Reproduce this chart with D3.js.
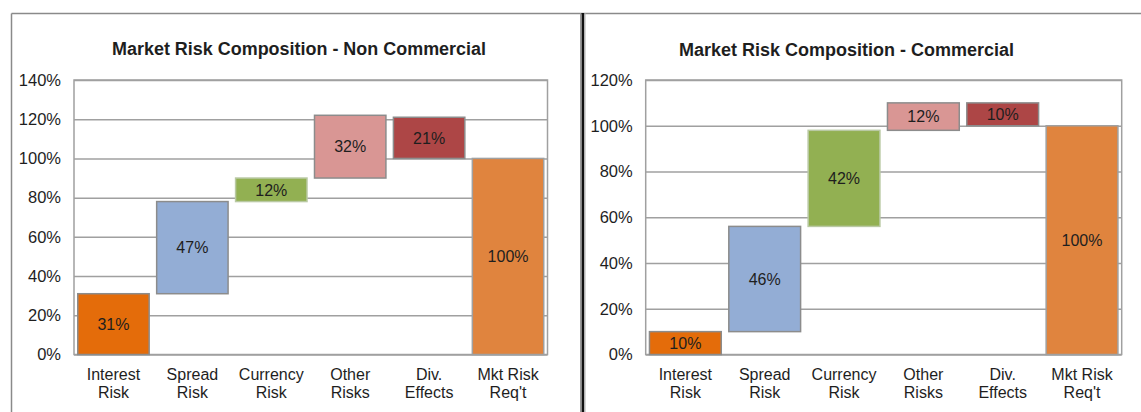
<!DOCTYPE html>
<html>
<head>
<meta charset="utf-8">
<script src="https://cdn.jsdelivr.net/npm/d3@7"></script>
<style>
  html, body { margin: 0; padding: 0; background: #fff; }
  svg { display: block; }
  text { font-family: "Liberation Sans", Arial, sans-serif; fill: #1e1e1e; }
</style>
</head>
<body>
<svg id="chart" width="1141" height="412"></svg>
<script>
// Waterfall categories (two-line labels)
const categories = [
  ["Interest", "Risk"],
  ["Spread", "Risk"],
  ["Currency", "Risk"],
  ["Other", "Risks"],
  ["Div.", "Effects"],
  ["Mkt Risk", "Req't"]
];

// Non Commercial: floating bar start and size (%)
const nonCommercialBase   = [0, 31, 78, 90, 100, 0];
const nonCommercialValues = [31, 47, 12, 32, 21, 100];
const nonCommercialTicks  = [0, 20, 40, 60, 80, 100, 120, 140];

// Commercial: floating bar start and size (%)
const commercialBase   = [0, 10, 56, 98, 100, 0];
const commercialValues = [10, 46, 42, 12, 10, 100];
const commercialTicks  = [0, 20, 40, 60, 80, 100, 120];

const barColors = ["#E46C0A", "#93ADD5", "#92B052", "#D99694", "#AD4646", "#E0843E"];
const barStrokes = ["#8c8c8c", "#8c8c8c", "#b9c9a3", "#8c8c8c", "#8c8c8c", "#a0a0a0"];

const svg = d3.select("#chart");

// Panel frames
svg.append("line").attr("x1", 11.5).attr("x2", 1141).attr("y1", 13.5).attr("y2", 13.5)
  .attr("stroke", "#8a8a8a").attr("stroke-width", 1.5);
svg.append("line").attr("x1", 11.5).attr("x2", 11.5).attr("y1", 13.5).attr("y2", 412)
  .attr("stroke", "#8a8a8a").attr("stroke-width", 1.5);
svg.append("line").attr("x1", 580.5).attr("x2", 580.5).attr("y1", 13).attr("y2", 412)
  .attr("stroke", "#9a9a9a").attr("stroke-width", 1);
svg.append("rect").attr("x", 581.5).attr("y", 13).attr("width", 2.8).attr("height", 399)
  .attr("fill", "#111");
svg.append("line").attr("x1", 585).attr("x2", 585).attr("y1", 13).attr("y2", 412)
  .attr("stroke", "#b0b0b0").attr("stroke-width", 1);

function drawPanel(cfg) {
  const g = svg.append("g");
  const x = d3.scaleBand()
    .domain(d3.range(categories.length))
    .range([cfg.left, cfg.right])
    .paddingInner(0.095)
    .paddingOuter(0.0475);
  const y = d3.scaleLinear()
    .domain([0, d3.max(cfg.ticks)])
    .range([cfg.bottom, cfg.top]);

  // Title
  g.append("text")
    .attr("x", cfg.titleX).attr("y", cfg.titleY)
    .attr("text-anchor", "middle")
    .attr("font-weight", "bold")
    .attr("font-size", 17.5)
    .attr("textLength", cfg.titleWidth)
    .attr("lengthAdjust", "spacingAndGlyphs")
    .text(cfg.title);

  // Gridlines
  const grid = g.append("g")
    .attr("transform", `translate(${cfg.left},0)`)
    .call(d3.axisLeft(y).tickValues(cfg.ticks).tickSize(-(cfg.right - cfg.left)).tickFormat(""));
  grid.select(".domain").remove();
  grid.selectAll("line").attr("stroke", "#a0a0a0").attr("stroke-width", 1.5);

  // Plot frame
  g.append("rect")
    .attr("x", cfg.left).attr("y", cfg.top)
    .attr("width", cfg.right - cfg.left).attr("height", cfg.bottom - cfg.top)
    .attr("fill", "none").attr("stroke", "#a0a0a0").attr("stroke-width", 1.5);

  // Y axis labels
  const yAxis = g.append("g")
    .attr("transform", `translate(${cfg.left},0)`)
    .call(d3.axisLeft(y).tickValues(cfg.ticks).tickSize(0).tickPadding(13).tickFormat(d => d + "%"));
  yAxis.select(".domain").remove();
  yAxis.selectAll("text")
    .attr("font-size", 16.5)
    .attr("fill", "#1e1e1e")
    .style("font-family", "'Liberation Sans', Arial, sans-serif");

  // Floating bars
  const data = cfg.values.map((v, i) => ({ i, base: cfg.base[i], value: v }));
  g.selectAll("rect.bar").data(data).join("rect")
    .attr("class", "bar")
    .attr("x", d => x(d.i))
    .attr("width", x.bandwidth())
    .attr("y", d => y(d.base + d.value))
    .attr("height", d => y(d.base) - y(d.base + d.value))
    .attr("fill", d => barColors[d.i])
    .attr("stroke", d => barStrokes[d.i])
    .attr("stroke-width", 1.5);

  // Value labels
  g.selectAll("text.val").data(data).join("text")
    .attr("class", "val")
    .attr("x", d => x(d.i) + x.bandwidth() / 2)
    .attr("y", d => y(d.base + d.value / 2))
    .attr("dy", "0.36em")
    .attr("text-anchor", "middle")
    .attr("font-size", 16)
    .text(d => d.value + "%");

  // Category labels
  const cat = g.selectAll("text.cat").data(categories).join("text")
    .attr("class", "cat")
    .attr("text-anchor", "middle")
    .attr("font-size", 16);
  cat.each(function (lines, i) {
    const t = d3.select(this);
    lines.forEach((ln, k) => {
      t.append("tspan")
        .attr("x", x(i) + x.bandwidth() / 2)
        .attr("y", cfg.bottom + 25.5 + k * 18)
        .text(ln);
    });
  });
}

drawPanel({
  title: "Market Risk Composition  - Non Commercial",
  titleX: 299, titleY: 55, titleWidth: 374,
  left: 74, right: 547.5, top: 80, bottom: 354.5,
  ticks: nonCommercialTicks,
  base: nonCommercialBase,
  values: nonCommercialValues
});

drawPanel({
  title: "Market Risk Composition  - Commercial",
  titleX: 846.5, titleY: 56, titleWidth: 335,
  left: 645.7, right: 1121.7, top: 80, bottom: 354.5,
  ticks: commercialTicks,
  base: commercialBase,
  values: commercialValues
});
</script>
</body>
</html>
